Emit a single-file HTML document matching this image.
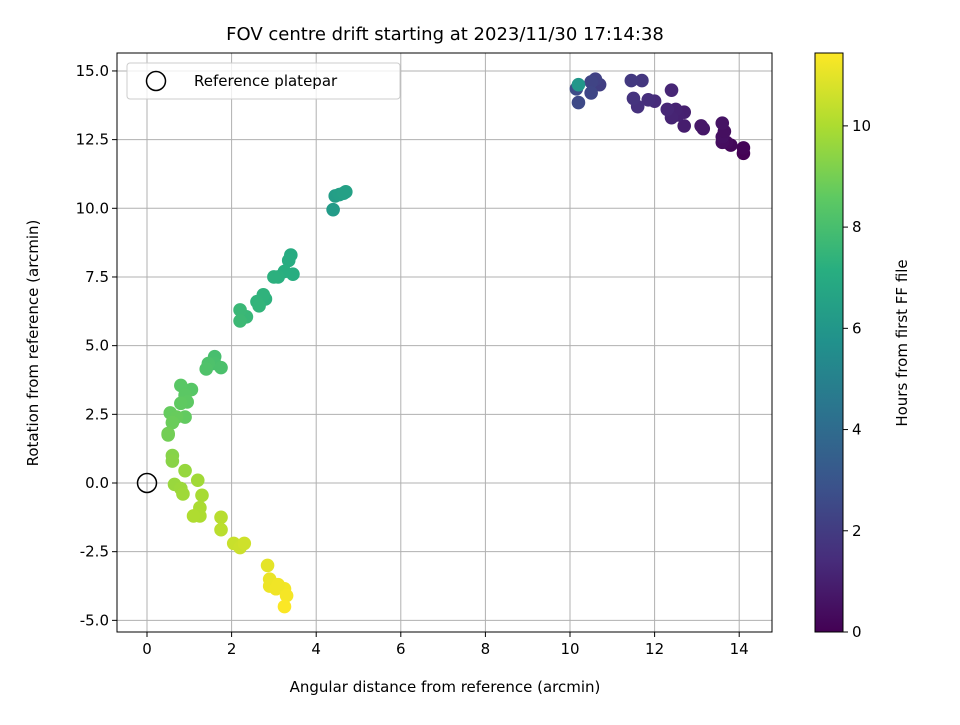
<!DOCTYPE html>
<html><head><meta charset="utf-8"><style>
body{margin:0;background:#fff;font-family:"Liberation Sans","DejaVu Sans",sans-serif}
svg text{font-family:"DejaVu Sans","Liberation Sans",sans-serif}
</style></head><body>
<svg id="chart" width="960" height="720" xmlns="http://www.w3.org/2000/svg">
<defs><linearGradient id="vir" x1="0" y1="1" x2="0" y2="0">
<stop offset="0" stop-color="#440154"/><stop offset="0.125" stop-color="#472d7b"/><stop offset="0.25" stop-color="#3b528b"/><stop offset="0.375" stop-color="#2c728e"/><stop offset="0.5" stop-color="#21918c"/><stop offset="0.625" stop-color="#28ae80"/><stop offset="0.75" stop-color="#5ec962"/><stop offset="0.875" stop-color="#addc30"/><stop offset="1" stop-color="#fde725"/></linearGradient></defs>
<g id="grid"></g><g id="pts"></g><g id="axes"></g>
</svg>
<script>
const xs=[14.1,14.1,13.8,13.7,13.6,13.6,13.65,13.6,13.15,13.1,12.7,12.7,12.55,12.5,12.4,12.4,12.3,12.0,11.85,11.6,11.5,11.7,11.45,10.7,10.6,10.5,10.5,10.2,10.15,10.2,4.4,4.45,4.55,4.7,4.65,3.4,3.35,3.45,3.25,3.1,3.0,2.8,2.75,2.6,2.65,2.35,2.2,2.2,1.6,1.6,1.75,1.45,1.4,1.05,0.8,0.9,0.95,0.8,0.9,0.55,0.7,0.6,0.5,0.5,0.6,0.6,0.9,0.65,0.8,0.85,1.2,1.3,1.25,1.25,1.1,1.75,1.75,2.05,2.2,2.3,2.85,2.9,2.9,3.05,3.25,3.3,3.25,3.1];
const ys=[12.0,12.2,12.3,12.4,12.4,12.6,12.8,13.1,12.9,13.0,13.0,13.5,13.4,13.6,13.3,14.3,13.6,13.9,13.95,13.7,14.0,14.65,14.65,14.5,14.7,14.6,14.2,13.85,14.35,14.5,9.95,10.45,10.5,10.6,10.55,8.3,8.1,7.6,7.7,7.5,7.5,6.7,6.85,6.6,6.45,6.05,6.3,5.9,4.6,4.35,4.2,4.35,4.15,3.4,3.55,3.2,2.95,2.9,2.4,2.55,2.4,2.2,1.8,1.75,1.0,0.8,0.45,-0.05,-0.2,-0.4,0.1,-0.45,-0.9,-1.2,-1.2,-1.25,-1.7,-2.2,-2.35,-2.2,-3.0,-3.5,-3.75,-3.85,-3.85,-4.1,-4.5,-3.7];
const hours=[0.0,0.1,0.2,0.3,0.4,0.5,0.45,0.6,0.7,0.75,0.9,1.0,1.05,1.1,1.15,1.2,1.25,1.4,1.5,1.6,1.7,1.8,1.9,2.1,2.2,2.3,2.4,2.5,2.6,6.0,6.2,6.3,6.4,6.5,6.45,7.0,7.05,7.1,7.15,7.2,7.25,7.3,7.35,7.4,7.45,7.6,7.65,7.7,8.0,8.05,8.1,8.15,8.2,8.4,8.45,8.5,8.55,8.6,8.65,8.7,8.75,8.8,8.9,8.95,9.3,9.35,9.6,9.65,9.7,9.75,9.8,9.9,9.95,10.0,10.05,10.2,10.25,10.5,10.55,10.6,11.0,11.1,11.15,11.2,11.25,11.3,11.4,11.2];
const xTicks=[0,2,4,6,8,10,12,14];
const yTicks=[-5.0,-2.5,0.0,2.5,5.0,7.5,10.0,12.5,15.0];
const cTicks=[0,2,4,6,8,10];
const cMax=11.44;
const L=117,R=772,T=53,B=632;
const X=v=>147+v*42.3, Y=v=>483-v*27.47, C=v=>632-v*(579/cMax);
const vir=["#440154","#472d7b","#3b528b","#2c728e","#21918c","#28ae80","#5ec962","#addc30","#fde725"];
function col(t){t=Math.max(0,Math.min(1,t))*8;const i=Math.min(7,Math.floor(t)),f=t-i;
const a=vir[i],b=vir[i+1];const p=(s,k)=>parseInt(s.substr(k,2),16);
let o="rgb(";for(const k of [1,3,5])o+=Math.round(p(a,k)+(p(b,k)-p(a,k))*f)+(k<5?",":")");return o;}
const NS="http://www.w3.org/2000/svg";
function mk(tag,at,par,txt){const e=document.createElementNS(NS,tag);for(const k in at)e.setAttribute(k,at[k]);if(txt!=null)e.textContent=txt;par.appendChild(e);return e;}
const g=document.getElementById('grid'),P=document.getElementById('pts'),A=document.getElementById('axes');
xTicks.forEach(v=>{const e=mk('line',{x1:X(v),x2:X(v),y1:T,y2:B,stroke:'#b0b0b0','stroke-width':1},g);


mk('line',{x1:X(v),x2:X(v),y1:B,y2:B+5,stroke:'#000'},A);
const t=mk('text',{x:X(v),y:B+22,'text-anchor':'middle','font-size':15},A,String(v));

});
yTicks.forEach(v=>{const e=mk('line',{x1:L,x2:R,y1:Y(v),y2:Y(v),stroke:'#b0b0b0','stroke-width':1},g);


mk('line',{x1:L-5,x2:L,y1:Y(v),y2:Y(v),stroke:'#000'},A);
const t=mk('text',{x:L-8,y:Y(v)+5,'text-anchor':'end','font-size':15},A,v.toFixed(1));

});
xs.forEach((x,i)=>{const c=mk('circle',{cx:X(x),cy:Y(ys[i]),r:6.8,fill:col(hours[i]/cMax)},P);

});
const ref=mk('circle',{cx:X(0),cy:Y(0),r:9.5,fill:'none',stroke:'#000','stroke-width':1.5},P);


mk('rect',{x:L,y:T,width:R-L,height:B-T,fill:'none',stroke:'#000','stroke-width':1},A);
const lg=mk('g',{},A);


mk('rect',{x:127,y:63,width:273,height:36,rx:3,fill:'#fff','fill-opacity':0.8,stroke:'#ccc'},lg);
mk('circle',{cx:156,cy:81,r:9.5,fill:'none',stroke:'#000','stroke-width':1.5},lg);
mk('text',{x:194,y:86,'font-size':15},lg,'Reference platepar');
const ti=mk('text',{x:445,y:40,'text-anchor':'middle','font-size':18},A,'FOV centre drift starting at 2023/11/30 17:14:38');


const xl=mk('text',{x:445,y:692,'text-anchor':'middle','font-size':15},A,'Angular distance from reference (arcmin)');


const yl=mk('text',{x:0,y:0,'text-anchor':'middle','font-size':15,transform:'translate(38,343) rotate(-90)'},A,'Rotation from reference (arcmin)');


const cb=mk('rect',{x:815,y:T,width:28,height:B-T,fill:'url(#vir)',stroke:'#000','stroke-width':1},A);


cTicks.forEach(v=>{mk('line',{x1:843,x2:848,y1:C(v),y2:C(v),stroke:'#000'},A);
const t=mk('text',{x:852,y:C(v)+5,'font-size':15},A,String(v));

});
const cl=mk('text',{x:0,y:0,'text-anchor':'middle','font-size':15,transform:'translate(907,343) rotate(-90)'},A,'Hours from first FF file');


</script>
</body></html>
